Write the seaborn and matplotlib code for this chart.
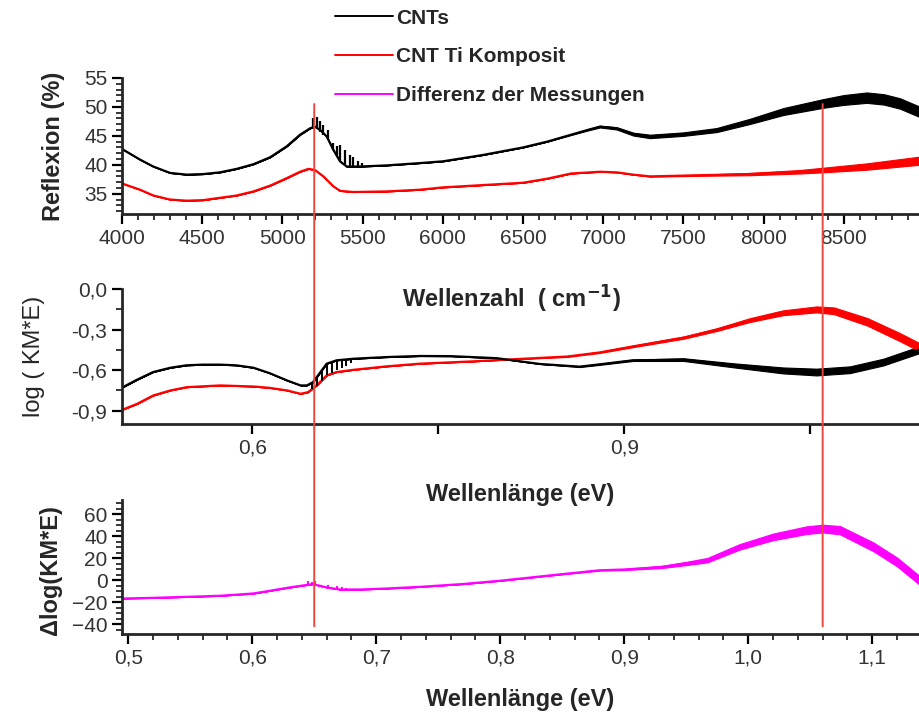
import numpy as np
import pandas as pd
import matplotlib
matplotlib.use('Agg')
import matplotlib.pyplot as plt
import matplotlib.transforms as mtransforms
from matplotlib.patches import ConnectionPatch
from matplotlib.lines import Line2D
from matplotlib.ticker import MultipleLocator, FixedLocator, FuncFormatter
import seaborn as sns

# --- Reflexion (top), Wellenzahl in cm^-1
refl_x = [4000, 4008, 4112, 4195, 4299, 4403, 4507, 4611, 4715, 4819, 4923, 5027, 5110,
          5172, 5203, 5240, 5276, 5317, 5359, 5401, 5484, 5650, 5858, 6000, 6250, 6500,
          6650, 6800, 6900, 6980, 7084, 7188, 7292, 7500, 7707, 7915, 8123, 8372, 8500,
          8643, 8750, 8850, 8969]
refl_cnt = [42.9, 42.6, 40.9, 39.7, 38.6, 38.3, 38.4, 38.7, 39.3, 40.1, 41.3, 43.2, 45.2,
            46.3, 46.6, 45.9, 44.9, 42.6, 40.6, 39.7, 39.7, 39.9, 40.3, 40.6, 41.7, 43.0,
            44.0, 45.2, 46.0, 46.6, 46.3, 45.3, 44.9, 45.3, 46.0, 47.5, 49.2, 50.6, 51.2,
            51.6, 51.3, 50.6, 49.2]
refl_cnt_noise = [0, 0, 0, 0, 0, 0, 0, 0, 0, 0, 0, 0, 0,
                  0, 0, 0, 0, 0, 0, 0, 0, 0, 0, 0, 0, 0,
                  0, 0.05, 0.1, 0.15, 0.2, 0.25, 0.3, 0.3, 0.35, 0.45, 0.6, 0.75, 0.85,
                  0.9, 0.9, 0.9, 0.9]
# spikes of the CNT trace behind the 5200 cm^-1 band
refl_spike_x = [5193, 5214, 5234, 5255, 5286, 5318, 5338, 5359, 5390, 5421, 5442, 5473, 5494]
refl_spike_lo = [46.5, 46.2, 45.6, 45.1, 44.5, 42.6, 41.6, 40.6, 39.9, 39.7, 39.7, 39.7, 39.7]
refl_spike_hi = [48.0, 48.3, 47.5, 46.9, 46.0, 43.7, 43.2, 43.4, 42.6, 41.7, 41.4, 40.7, 40.3]

refl_ti_x = [4000, 4008, 4112, 4195, 4299, 4403, 4507, 4611, 4715, 4819, 4923, 5027, 5110,
             5162, 5203, 5255, 5317, 5359, 5442, 5650, 5858, 6000, 6250, 6500, 6650, 6800,
             6980, 7084, 7188, 7292, 7604, 7915, 8227, 8372, 8643, 8969]
refl_ti = [36.8, 36.7, 35.7, 34.7, 34.0, 33.8, 33.9, 34.3, 34.7, 35.4, 36.4, 37.7, 38.8,
           39.3, 39.1, 38.0, 36.3, 35.5, 35.3, 35.4, 35.7, 36.1, 36.5, 36.9, 37.6, 38.5,
           38.8, 38.7, 38.3, 38.0, 38.2, 38.4, 38.8, 39.1, 39.7, 40.7]
refl_ti_noise = [0, 0, 0, 0, 0, 0, 0, 0, 0, 0, 0, 0, 0,
                 0, 0, 0, 0, 0, 0, 0, 0, 0, 0, 0, 0, 0,
                 0, 0, 0, 0.05, 0.1, 0.2, 0.3, 0.4, 0.55, 0.7]

# --- log(KM*E) (middle), energy in eV
km_cnt_x = [0.495, 0.507, 0.520, 0.534, 0.547, 0.560, 0.574, 0.587, 0.601, 0.614, 0.628,
            0.639, 0.644, 0.649, 0.655, 0.660, 0.668, 0.682, 0.708, 0.735, 0.760, 0.797,
            0.832, 0.864, 0.880, 0.907, 0.948, 0.988, 1.028, 1.055, 1.082, 1.109, 1.138]
km_cnt = [-0.73, -0.672, -0.615, -0.583, -0.565, -0.56, -0.56, -0.565, -0.583, -0.623, -0.677,
          -0.714, -0.714, -0.69, -0.615, -0.553, -0.528, -0.516, -0.504, -0.496, -0.497, -0.512,
          -0.555, -0.575, -0.558, -0.528, -0.523, -0.565, -0.603, -0.615, -0.598, -0.541, -0.45]
km_cnt_noise = [0, 0, 0, 0, 0, 0, 0, 0, 0, 0, 0,
                0, 0, 0, 0, 0, 0, 0, 0, 0, 0, 0,
                0, 0.003, 0.004, 0.005, 0.01, 0.015, 0.022, 0.025, 0.025, 0.025, 0.025]
km_spike_x = [0.648, 0.652, 0.656, 0.660, 0.664, 0.668, 0.672, 0.676, 0.680]
km_spike_lo = [-0.74, -0.72, -0.68, -0.64, -0.62, -0.60, -0.585, -0.57, -0.55]
km_spike_hi = [-0.70, -0.66, -0.61, -0.553, -0.54, -0.528, -0.524, -0.52, -0.518]

km_ti_x = [0.495, 0.507, 0.520, 0.534, 0.547, 0.574, 0.601, 0.614, 0.628, 0.639, 0.645,
           0.652, 0.660, 0.668, 0.682, 0.708, 0.735, 0.78, 0.80, 0.854, 0.880, 0.907,
           0.948, 0.975, 1.001, 1.028, 1.055, 1.069, 1.096, 1.122, 1.138]
km_ti = [-0.895, -0.851, -0.789, -0.751, -0.727, -0.714, -0.722, -0.732, -0.751, -0.776, -0.764,
         -0.714, -0.64, -0.615, -0.598, -0.573, -0.553, -0.535, -0.525, -0.50, -0.47, -0.425,
         -0.36, -0.30, -0.231, -0.176, -0.151, -0.161, -0.243, -0.355, -0.43]
km_ti_noise = [0, 0, 0, 0, 0, 0, 0, 0, 0, 0, 0,
               0, 0, 0, 0, 0, 0, 0, 0, 0.003, 0.004, 0.006,
               0.008, 0.01, 0.014, 0.018, 0.022, 0.025, 0.028, 0.03, 0.03]

# --- difference (bottom)
diff_x = [0.495, 0.520, 0.547, 0.574, 0.601, 0.614, 0.628, 0.641, 0.649, 0.660, 0.671,
          0.687, 0.708, 0.735, 0.77, 0.80, 0.85, 0.88, 0.90, 0.93, 0.95, 0.967, 0.993,
          1.02, 1.047, 1.06, 1.074, 1.101, 1.12, 1.138]
diff = [-16.7, -16.1, -15.2, -14.2, -12.1, -9.7, -7.0, -4.8, -3.6, -6.6, -8.5,
        -8.5, -7.6, -6.1, -3.5, -0.5, 5.5, 9.0, 9.7, 12.0, 15.2, 18.2, 30.3,
        39.4, 45.5, 47.0, 45.5, 30.3, 16.6, 0.0]
diff_noise = [0, 0, 0, 0, 0, 0, 0, 0, 0, 0, 0,
              0, 0, 0, 0, 0, 0.2, 0.3, 0.5, 1.0, 1.5, 2.0, 2.5,
              3.0, 3.5, 3.5, 3.8, 4.0, 4.0, 4.0]
diff_spike_x = [0.6453, 0.648, 0.651, 0.6547, 0.6614, 0.6654, 0.668, 0.672, 0.676, 0.679]
diff_spike_lo = [-4.4, -3.8, -3.8, -4.8, -7.2, -7.8, -8.2, -8.5, -8.5, -8.5]
diff_spike_hi = [-0.9, -1.5, -0.9, -4.0, -4.5, -6.7, -5.5, -6.0, -6.7, -7.6]

marker_ev = [0.65, 1.06]
legend_labels = ['CNTs', 'CNT Ti Komposit', 'Differenz der Messungen']
colors = ['black', '#ff0000', '#ff00ff']

sns.set_style('ticks')
plt.rcParams['font.family'] = ['Liberation Sans Narrow', 'Liberation Sans', 'DejaVu Sans']
plt.rcParams['mathtext.default'] = 'regular'
plt.rcParams['axes.linewidth'] = 2

fig = plt.figure(figsize=(9.19, 7.22), dpi=100)
ax1 = fig.add_axes([0.1328, 0.7036, 0.8672, 0.1884])
ax2 = fig.add_axes([0.1328, 0.4127, 0.8672, 0.1870])
ax3 = fig.add_axes([0.1328, 0.1219, 0.8672, 0.1856])


def comma(v, pos):
    return f'{v:.1f}'.replace('.', ',')


def band(ax, x, y, half, color):
    y = np.array(y)
    h = np.array(half)
    ax.fill_between(x, y - h, y + h, color=color, lw=0.8, edgecolor=color)


# top panel
band(ax1, refl_x, refl_cnt, refl_cnt_noise, colors[0])
band(ax1, refl_ti_x, refl_ti, refl_ti_noise, colors[1])
ax1.vlines(refl_spike_x, refl_spike_lo, refl_spike_hi, color=colors[0], lw=1.6)
sns.lineplot(x=refl_x, y=refl_cnt, ax=ax1, color=colors[0], lw=1.6)
sns.lineplot(x=refl_ti_x, y=refl_ti, ax=ax1, color=colors[1], lw=1.6)
ax1.set_xlim(4000, 8969)
ax1.set_ylim(31.5, 55)
ax1.xaxis.set_major_locator(MultipleLocator(500))
ax1.xaxis.set_minor_locator(MultipleLocator(100))
ax1.yaxis.set_minor_locator(MultipleLocator(1))
ax1.set_yticks([35, 40, 45, 50, 55])
ax1.set_ylabel('Reflexion (%)', fontsize=17, fontweight='bold')
ax1.yaxis.set_label_coords(-0.072, 0.5)
ax1.set_xlabel('Wellenzahl  ( cm$^{\\mathbf{-1}}$)', fontsize=17, fontweight='bold')
ax1.xaxis.set_label_coords(0.489, -0.50)

# middle panel
band(ax2, km_cnt_x, km_cnt, km_cnt_noise, colors[0])
band(ax2, km_ti_x, km_ti, km_ti_noise, colors[1])
sns.lineplot(x=km_ti_x, y=km_ti, ax=ax2, color=colors[1], lw=1.6)
sns.lineplot(x=km_cnt_x, y=km_cnt, ax=ax2, color=colors[0], lw=1.6)
ax2.vlines(km_spike_x, km_spike_lo, km_spike_hi, color=colors[0], lw=1.4)
ax2.set_xlim(0.495, 1.1377)
ax2.set_ylim(-1.0, 0.0)
ax2.xaxis.set_major_locator(FixedLocator([0.6, 0.75, 0.9, 1.05]))
ax2.xaxis.set_major_formatter(FuncFormatter(
    lambda v, p: comma(v, p) if abs(v - 0.6) < 1e-6 or abs(v - 0.9) < 1e-6 else ''))
ax2.set_yticks([0.0, -0.3, -0.6, -0.9])
ax2.yaxis.set_minor_locator(MultipleLocator(0.15))
ax2.yaxis.set_major_formatter(FuncFormatter(comma))
ax2.set_ylabel('log ( KM*E)', fontsize=17)
ax2.yaxis.set_label_coords(-0.097, 0.5)
ax2.set_xlabel('Wellenlänge (eV)', fontsize=17, fontweight='bold')
ax2.xaxis.set_label_coords(0.5, -0.44)

# bottom panel
band(ax3, diff_x, diff, diff_noise, colors[2])
ax3.vlines(diff_spike_x, diff_spike_lo, diff_spike_hi, color=colors[2], lw=1.4)
sns.lineplot(x=diff_x, y=diff, ax=ax3, color=colors[2], lw=1.6)
ax3.set_xlim(0.495, 1.1377)
ax3.set_ylim(-49, 73)
ax3.xaxis.set_major_locator(MultipleLocator(0.1))
ax3.xaxis.set_minor_locator(MultipleLocator(0.02))
ax3.xaxis.set_major_formatter(FuncFormatter(comma))
ax3.set_yticks([-40, -20, 0, 20, 40, 60])
ax3.yaxis.set_minor_locator(MultipleLocator(5))
ax3.set_ylabel('\u0394log(KM*E)', fontsize=17, fontweight='bold')
ax3.yaxis.set_label_coords(-0.075, 0.48)
ax3.set_xlabel('Wellenlänge (eV)', fontsize=17, fontweight='bold')
ax3.xaxis.set_label_coords(0.5, -0.40)

for ax in (ax1, ax2, ax3):
    sns.despine(ax=ax, top=True, right=True)
    ax.spines['left'].set_linewidth(2)
    ax.spines['bottom'].set_linewidth(2)
    ax.tick_params(which='major', direction='out', length=7, width=1.6,
                   labelsize=15, colors='black', labelcolor='#333333')
    ax.tick_params(which='minor', direction='out', length=4, width=1.3)
    ax.patch.set_alpha(0)

# red marker lines running through all three panels
top_tr = mtransforms.blended_transform_factory(ax3.transData, ax1.transData)
for xv in marker_ev:
    con = ConnectionPatch(xyA=(xv, 50.5), coordsA=top_tr, xyB=(xv, -42),
                          coordsB=ax3.transData, color='#e8483e', lw=1.4)
    fig.add_artist(con)

handles = [Line2D([], [], color=c, lw=1.4) for c in colors]
fig.legend(handles, legend_labels, loc='upper left', bbox_to_anchor=(0.364, 0.988),
           frameon=False, handlelength=2.8, handletextpad=0.15,
           labelspacing=0.95, borderpad=0, borderaxespad=0,
           prop={'weight': 'bold', 'size': 15})

fig.savefig('out.png', dpi=100)
